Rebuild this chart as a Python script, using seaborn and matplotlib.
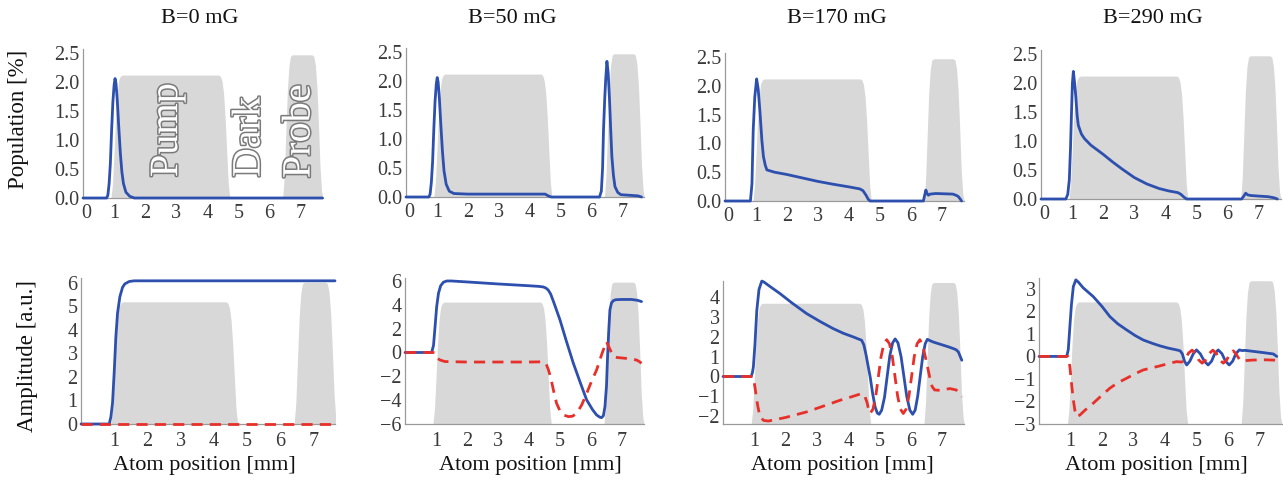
import numpy as np
import matplotlib
matplotlib.use("Agg")
import matplotlib.pyplot as plt
import matplotlib.patheffects as pe
import matplotlib.transforms as mtransforms
from matplotlib.ticker import MultipleLocator
import seaborn as sns

sns.set_theme(style="white")
plt.rcParams['font.family'] = ['Liberation Serif', 'DejaVu Serif']
plt.rcParams['mathtext.fontset'] = 'stix'

# ---------------- data ----------------
titles = ["B=0 mG", "B=50 mG", "B=170 mG", "B=290 mG"]

# normalised laser profiles (pump and probe), shared by all panels
pump_x = [0.90, 0.95, 1.00, 1.05, 1.10, 1.15, 1.20, 1.26, 4.36, 4.42, 4.47, 4.52, 4.57, 4.62, 4.67, 4.72]
pump_f = [0.00, 0.12, 0.38, 0.66, 0.86, 0.96, 0.99, 1.00, 1.00, 0.99, 0.95, 0.85, 0.65, 0.38, 0.12, 0.00]
probe_x = [6.42, 6.47, 6.52, 6.57, 6.62, 6.67, 6.73, 7.36, 7.42, 7.47, 7.52, 7.57, 7.62, 7.67, 7.71]
probe_f = [0.00, 0.15, 0.45, 0.75, 0.92, 0.99, 1.00, 1.00, 0.99, 0.93, 0.78, 0.52, 0.22, 0.05, 0.00]

pop_pump_top = [2.12, 2.12, 2.12, 2.12]
pop_probe_top = [2.47, 2.47, 2.47, 2.47]
amp_pump_top = [5.19, 4.23, 3.70, 2.42]
amp_probe_top = [6.02, 5.90, 4.75, 3.36]

# population curves (top row)
pop0_x = [0, 0.76, 0.80, 0.84, 0.88, 0.92, 0.96, 1.00, 1.03, 1.06, 1.10, 1.15, 1.20, 1.25, 1.30, 1.38, 1.50, 1.65, 7.7]
pop0_y = [0, 0, 0.05, 0.25, 0.60, 1.17, 1.65, 1.95, 2.06, 1.98, 1.70, 1.22, 0.78, 0.45, 0.25, 0.10, 0.03, 0, 0]

pop50_x = [0, 0.74, 0.78, 0.82, 0.86, 0.90, 0.94, 0.98, 1.01, 1.04, 1.08, 1.13, 1.18, 1.23, 1.30, 1.40, 1.55,
           2.0, 3.0, 4.0, 4.40, 4.50, 4.60, 4.70, 6.26, 6.32, 6.36, 6.39, 6.43, 6.46, 6.50, 6.54, 6.58,
           6.62, 6.66, 6.71, 6.76, 6.85, 6.95, 7.50, 7.62]
pop50_y = [0, 0, 0.05, 0.25, 0.60, 1.17, 1.65, 1.95, 2.06, 1.98, 1.70, 1.22, 0.78, 0.45, 0.22, 0.10, 0.06,
           0.05, 0.05, 0.05, 0.05, 0.05, 0.02, 0, 0, 0.10, 0.50, 1.16, 1.70, 2.02, 2.34, 2.15, 1.73,
           1.20, 0.70, 0.38, 0.18, 0.08, 0.04, 0.02, 0]

pop170_x = [0, 0.82, 0.87, 0.91, 0.96, 1.02, 1.07, 1.13, 1.19, 1.24, 1.30, 1.35, 1.6, 2.0, 2.5, 3.0, 3.5, 4.0,
            4.35, 4.45, 4.55, 4.62, 4.68, 5.48, np.nan, 5.74, 6.40, 6.44, 6.48, 6.52, 6.56, 6.62, 6.80,
            7.35, 7.45, 7.52, 7.58, 7.63]
pop170_y = [0, 0, 0.30, 1.23, 1.80, 2.12, 1.95, 1.53, 1.05, 0.77, 0.62, 0.54, 0.50, 0.46, 0.40, 0.34, 0.29, 0.245,
            0.21, 0.18, 0.10, 0.03, 0, 0, np.nan, 0, 0, 0.10, 0.19, 0.13, 0.10, 0.12, 0.13,
            0.12, 0.10, 0.08, 0.04, 0]

pop290_x = [0, 0.80, 0.86, 0.91, 0.95, 0.98, 1.01, 1.04, 1.08, 1.12, 1.16, 1.20, 1.30, 1.40, 1.60, 1.80, 2.0,
            2.3, 2.6, 3.0, 3.4, 3.8, 4.1, 4.4, 4.5, 4.6, 4.68, 6.45, 6.52, 6.58, 6.65, 6.75, 7.0, 7.3, 7.5, 7.6]
pop290_y = [0, 0, 0.08, 0.33, 0.90, 1.48, 2.00, 2.20, 2.00, 1.76, 1.45, 1.27, 1.12, 1.04, 0.93, 0.85, 0.77,
            0.64, 0.52, 0.37, 0.26, 0.18, 0.14, 0.11, 0.08, 0.03, 0, 0, 0.05, 0.10, 0.07, 0.06, 0.05, 0.04, 0.02, 0]

# amplitude curves (bottom row): solid blue and dashed red
amp0_bx = [0, 0.85, 0.90, 0.95, 1.00, 1.05, 1.10, 1.17, 1.25, 1.32, 1.45, 1.60, 7.65]
amp0_by = [0, 0, 0.30, 0.90, 2.20, 3.70, 4.70, 5.40, 5.80, 5.95, 6.05, 6.08, 6.08]
amp0_rx = [0, 7.65]
amp0_ry = [0, 0]

amp50_bx = [0, 0.86, 0.92, 0.97, 1.02, 1.08, 1.15, 1.24, 1.35, 1.5, 2.0, 3.0, 4.0, 4.3, 4.46, 4.55, 4.62, 4.7,
            4.8, 5.0, 5.2, 5.43, 5.65, 5.86, 6.05, 6.18, 6.28, 6.34, 6.40, 6.45, 6.50, 6.53, 6.57, 6.61, 6.66,
            6.72, 6.8, 7.0, 7.3, 7.5, 7.63]
amp50_by = [0, 0, 0.6, 2.17, 3.8, 4.97, 5.6, 5.9, 6.0, 6.0, 5.92, 5.75, 5.6, 5.55, 5.5, 5.4, 5.24, 4.9,
            4.2, 2.73, 1.0, -0.9, -2.5, -3.98, -4.8, -5.24, -5.42, -5.47, -5.3, -4.54, -2.8, -0.63, 1.7, 3.57, 4.15,
            4.35, 4.43, 4.45, 4.45, 4.38, 4.27]
amp50_rx = [0, 0.95, 1.0, 1.05, 1.13, 1.29, 2.0, 3.0, 4.0, 4.46, 4.55, 4.62, 4.7, 4.8, 4.89, 5.0, 5.11, 5.27,
            5.4, 5.54, 5.7, 5.86, 6.02, 6.18, 6.34, 6.45, 6.5, 6.58, 6.67, 6.77, 7.15, 7.47, 7.55, 7.63]
amp50_ry = [0, 0, -0.2, -0.5, -0.63, -0.76, -0.8, -0.8, -0.8, -0.78, -0.95, -1.4, -2.1, -3.3, -4.27, -4.9, -5.24, -5.38,
            -5.35, -5.1, -4.4, -3.43, -2.4, -1.47, -0.2, 0.6, 0.91, 0.45, -0.07, -0.4, -0.5, -0.63, -0.75, -0.9]

amp170_bx = [0, 0.90, 0.94, 0.97, 1.02, 1.08, 1.15, 1.24, 1.30, 1.50, 1.82, 2.2, 2.67, 3.1, 3.52, 3.85, 4.16, 4.43,
             4.50, 4.57, 4.64, 4.70, 4.78, 4.86, 4.93, 4.99, 5.07, 5.16, 5.245, 5.33, 5.42, 5.50, 5.59, 5.69, 5.78,
             5.87, 5.97, 6.06, 6.14, 6.22, 6.30, 6.38, 6.46, 6.53, 6.60, 6.72, 7.0, 7.2, 7.36, 7.45, 7.52, 7.57, 7.63]
amp170_by = [0, 0, 0.2, 0.48, 1.6, 3.34, 4.4, 4.82, 4.78, 4.55, 4.19, 3.72, 3.18, 2.78, 2.42, 2.18, 2.0, 1.83,
             1.6, 1.1, 0.5, 0.0, -0.85, -1.54, -1.85, -1.91, -1.7, -1.05, 0.0, 1.05, 1.7, 1.9, 1.7, 1.0, 0.0,
             -1.0, -1.7, -1.91, -1.7, -1.0, 0.0, 1.0, 1.65, 1.88, 1.82, 1.74, 1.6, 1.5, 1.41, 1.35, 1.24, 1.05, 0.82]
amp170_rx = [0, 0.95, 0.98, 1.02, 1.10, 1.18, 1.30, 1.45, 2.0, 2.67, 3.2, 3.74, 4.1, 4.43, 4.52, 4.60, 4.65, 4.70,
             4.79, 4.88, 4.965, 5.05, 5.14, 5.23, 5.32, 5.41, 5.495, 5.58, 5.67, 5.76, 5.85, 5.94, 6.025, 6.11,
             6.20, 6.29, 6.38, 6.45, 6.52, 6.60, 6.68, 6.76, 6.93, 7.25, 7.45, 7.55, 7.63]
amp170_ry = [0, 0, -0.15, -0.53, -1.4, -2.04, -2.22, -2.25, -2.07, -1.79, -1.5, -1.2, -1.03, -0.86, -0.95, -1.3, -1.65, -1.87,
             -1.65, -1.0, 0.0, 1.0, 1.65, 1.86, 1.65, 1.0, 0.0, -1.0, -1.65, -1.87, -1.65, -1.0, 0.0, 1.0,
             1.65, 1.86, 1.55, 1.1, 0.6, 0.0, -0.5, -0.68, -0.7, -0.61, -0.68, -0.85, -1.03]

amp290_bx = [0, 0.88, 0.93, 0.98, 1.03, 1.09, 1.17, 1.25, 1.40, 1.72, 2.0, 2.25, 2.5, 2.78, 3.05, 3.31, 3.6, 3.84,
             4.1, 4.37, 4.48, 4.55, 4.62, 4.69, 4.79, 4.90, 5.00, 5.12, 5.25, 5.37, 5.48, 5.58, 5.69, 5.81, 5.92,
             6.04, 6.15, 6.25, 6.36, 6.45, 6.54, 7.12, 7.44, 7.55]
amp290_by = [0, 0, 0.3, 1.32, 2.3, 3.1, 3.4, 3.3, 3.05, 2.66, 2.22, 1.77, 1.45, 1.18, 0.93, 0.73, 0.58, 0.47,
             0.37, 0.29, 0.25, 0.12, -0.21, -0.38, -0.21, 0.12, 0.29, 0.12, -0.21, -0.38, -0.21, 0.12, 0.29, 0.12, -0.21,
             -0.38, -0.21, 0.12, 0.29, 0.26, 0.27, 0.17, 0.11, 0.0]
amp290_rx = [0, 0.92, 0.98, 1.04, 1.09, 1.14, 1.20, 1.30, 1.45, 1.72, 2.0, 2.25, 2.5, 2.78, 3.05, 3.31, 3.6, 3.84,
             4.1, 4.37, 4.53, 4.64, 4.75, 4.86, 4.97, 5.07, 5.18, 5.29, 5.41, 5.52, 5.63, 5.74, 5.85, 5.96, 6.06,
             6.17, 6.26, 6.36, 6.45, 6.6, 6.8, 7.2, 7.55]
amp290_ry = [0, 0, -0.45, -1.3, -1.93, -2.4, -2.67, -2.6, -2.4, -2.08, -1.72, -1.41, -1.17, -0.97, -0.77, -0.6, -0.5, -0.42,
             -0.32, -0.23, -0.25, -0.12, 0.15, 0.28, 0.135, -0.155, -0.3, -0.155, 0.135, 0.28, 0.135, -0.155, -0.3, -0.155, 0.12,
             0.25, 0.1, -0.12, -0.22, -0.18, -0.16, -0.15, -0.17]

pop_curves = [(pop0_x, pop0_y), (pop50_x, pop50_y), (pop170_x, pop170_y), (pop290_x, pop290_y)]
amp_blue = [(amp0_bx, amp0_by), (amp50_bx, amp50_by), (amp170_bx, amp170_by), (amp290_bx, amp290_by)]
amp_red = [(amp0_rx, amp0_ry), (amp50_rx, amp50_ry), (amp170_rx, amp170_ry), (amp290_rx, amp290_ry)]

# ---------------- layout (pixels) ----------------
W, H = 1283, 482
top_boxes = [(83, 322.5, 49, 198), (406, 644, 48, 197), (725, 963.7, 53, 201), (1041, 1280.5, 50, 199)]
top_xlim = [(0, 7.7)] * 4
top_ylim = (0, 2.57)
bot_boxes = [(81, 335, 278, 424), (405, 643.7, 278, 424), (723, 964, 280.5, 424), (1039, 1281.5, 277.6, 424)]
bot_xlim = [(0, 7.65), (0, 7.7), (0, 7.7), (0, 7.7)]
bot_ylim = [(0, 6.2), (-6, 6.25), (-2.4, 4.85), (-3, 3.5)]
bot_yticks = [list(range(0, 7)), [-6, -4, -2, 0, 2, 4, 6], [-2, -1, 0, 1, 2, 3, 4], [-3, -2, -1, 0, 1, 2, 3]]

BLUE = "#2d4fae"
RED = "#e8302a"
GRAY_FILL = "#d8d8d8"
AX_GRAY = "#9a9a9a"
TXT = "#3a3a3a"

fig = plt.figure(figsize=(W / 100, H / 100), dpi=100)


def make_ax(box):
    l, r, t, b = box
    return fig.add_axes([l / W, 1 - b / H, (r - l) / W, (b - t) / H])


def style_ax(ax, xpad):
    sns.despine(ax=ax, top=True, right=True)
    for s in ("left", "bottom"):
        ax.spines[s].set_color(AX_GRAY)
        ax.spines[s].set_linewidth(0.9)
    ax.tick_params(axis="both", which="major", direction="in", length=4, width=0.8,
                   color=AX_GRAY, labelsize=14.5, labelcolor=TXT)
    ax.tick_params(axis="y", which="major", pad=2.5)
    ax.tick_params(axis="x", which="major", pad=xpad)
    ax.tick_params(axis="both", which="minor", direction="in", length=2, width=0.6, color=AX_GRAY)
    ax.patch.set_alpha(0)


def draw_beams(ax, ymin, pump_top, probe_top):
    pf = np.array(pump_f)
    qf = np.array(probe_f)
    ax.fill_between(pump_x, ymin, ymin + pf * (pump_top - ymin), color=GRAY_FILL, lw=0, zorder=1)
    ax.fill_between(probe_x, ymin, ymin + qf * (probe_top - ymin), color=GRAY_FILL, lw=0, zorder=1)


# top row
for i in range(4):
    ax = make_ax(top_boxes[i])
    style_ax(ax, 4.5)
    draw_beams(ax, 0, pop_pump_top[i], pop_probe_top[i])
    x, y = pop_curves[i]
    sns.lineplot(x=x, y=y, ax=ax, color=BLUE, linewidth=2.0, sort=False, estimator=None,
                 clip_on=False, zorder=4)
    ax.set_xlim(*top_xlim[i])
    ax.set_ylim(*top_ylim)
    ax.set_xticks(range(0, 8))
    ax.set_yticks([0, 0.5, 1.0, 1.5, 2.0, 2.5])
    ax.set_yticklabels(["0.0", "0.5", "1.0", "1.5", "2.0", "2.5"])
    ax.xaxis.set_minor_locator(MultipleLocator(0.2))
    ax.yaxis.set_minor_locator(MultipleLocator(0.1))
    ax.set_xlabel("")
    ax.set_ylabel("")
    # nudge the "0" x tick label a touch right so it clears the "0.0" label
    first = ax.get_xticklabels()[0]
    first.set_transform(first.get_transform() +
                        mtransforms.ScaledTranslation(3 / 100, 0, fig.dpi_scale_trans))
    if i == 0:
        fx = pe.withStroke(linewidth=2.2, foreground="#7a7a7a")
        for word, xx, yy in [("Pump", 2.72, 1.17), ("Dark", 5.37, 1.05), ("Probe", 6.98, 1.15)]:
            ax.text(xx, yy, word, rotation=90, ha="center", va="center", fontsize=29,
                    color="white", path_effects=[fx], zorder=5)

# bottom row
for i in range(4):
    ax = make_ax(bot_boxes[i])
    style_ax(ax, 6)
    ymin = bot_ylim[i][0]
    draw_beams(ax, ymin, amp_pump_top[i], amp_probe_top[i])
    bx, by = amp_blue[i]
    rx, ry = amp_red[i]
    sns.lineplot(x=bx, y=by, ax=ax, color=BLUE, linewidth=2.0, sort=False, estimator=None,
                 clip_on=False, zorder=4)
    sns.lineplot(x=rx, y=ry, ax=ax, color=RED, linewidth=2.0, sort=False, estimator=None,
                 linestyle=(0, (4.0, 2.6)), clip_on=False, zorder=5)
    ax.set_xlim(*bot_xlim[i])
    ax.set_ylim(*bot_ylim[i])
    ax.set_xticks(range(1, 8))
    ax.set_yticks(bot_yticks[i])
    ax.xaxis.set_minor_locator(MultipleLocator(0.2))
    ax.yaxis.set_minor_locator(MultipleLocator(0.5 if i != 1 else 1.0))
    ax.set_xlabel("")
    ax.set_ylabel("")

# titles and labels
title_x = [200, 512, 837, 1153]
for t, xx in zip(titles, title_x):
    fig.text(xx / W, 1 - 23 / H, t, ha="center", va="baseline", fontsize=16, color="#111111")

xlab_x = [204, 530, 842, 1156]
for xx in xlab_x:
    fig.text(xx / W, 1 - 470 / H, "Atom position [mm]", ha="center", va="baseline", fontsize=16, color="#111111")

fig.text(19 / W, 1 - 119 / H, "Population [%]", rotation=90, ha="center", va="center", fontsize=16.5, color="#111111")
fig.text(28 / W, 1 - 356 / H, "Amplitude [a.u.]", rotation=90, ha="center", va="center", fontsize=16.5, color="#111111")

fig.savefig("out.png", dpi=100, facecolor="white")
